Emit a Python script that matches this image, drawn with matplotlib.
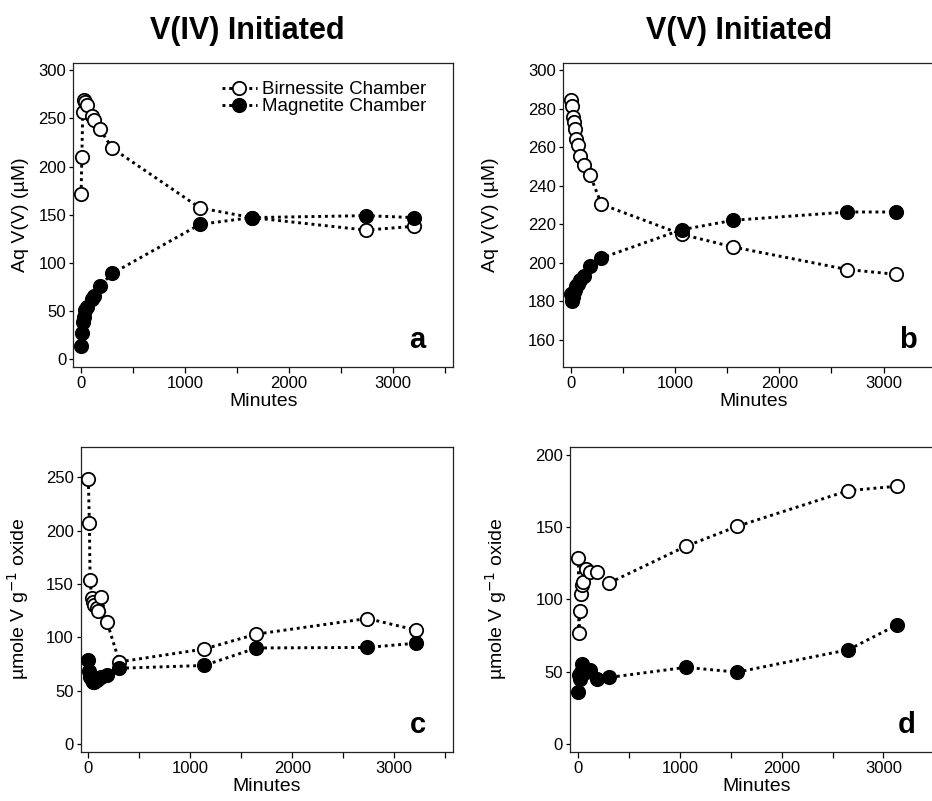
import matplotlib
matplotlib.use("Agg")
import matplotlib.pyplot as plt
from matplotlib.ticker import MultipleLocator, FixedLocator

plt.rcParams['font.family'] = ['Liberation Sans', 'DejaVu Sans']

# ---------------- data ----------------
# Panel a: V(IV) initiated, aqueous V(V) (uM)
t_a = [0, 7, 16, 29, 38, 55, 103, 128, 180, 301, 1144, 1641, 2740, 3205]
a_birn = [171, 210, 257, 269, 267, 264, 253, 248, 239, 219, 157, 147, 134, 138]
a_magn = [13, 27, 38, 44, 51, 54, 62, 66, 76, 89, 140, 147, 149, 147]

# Panel b: V(V) initiated, aqueous V(V) (uM)
t_b = [0, 12, 20, 30, 40, 55, 65, 90, 130, 185, 295, 1064, 1559, 2652, 3122]
b_birn = [284.8, 281.3, 275.7, 273, 269.7, 264.5, 261, 255.3, 250.6, 245.6, 230.4, 214.8, 208.2, 196.5, 194]
b_magn = [184, 180, 182, 185, 186, 188, 189, 191, 193, 198.2, 202.5, 217.2, 222.1, 226.4, 226.4]

# Panel c: V(IV) initiated, umole V / g oxide
t_c = [0, 10, 17, 33, 45, 59, 80, 98, 125, 184, 305, 1135, 1649, 2737, 3219]
c_birn = [248, 207, 154, 137, 133, 130, 127, 125, 138, 114, 77, 89, 103, 117.6, 106.7]
c_magn = [79, 68, 63, 60, 58, 58, 60, 62, 63, 65, 71, 73.6, 90, 90.5, 94.5]

# Panel d: V(V) initiated, umole V / g oxide
t_d = [0, 5, 15, 25, 35, 45, 75, 110, 180, 300, 1056, 1563, 2655, 3131]
d_birn = [128.8, 77, 92, 104, 110, 112, 121, 119, 119, 111.4, 136.8, 150.7, 175.4, 178.4]
d_magn = [36, 48, 45, 50, 55, 52, 50, 51, 45, 46, 53, 49.7, 65.2, 82.3]

titles = ["V(IV) Initiated", "V(V) Initiated"]
letters = ["a", "b", "c", "d"]
series_labels = ["Birnessite Chamber", "Magnetite Chamber"]
ylab_top = "Aq V(V) (\u00b5M)"
ylab_bot = "\u00b5mole V g$^{-1}$ oxide"

# ---------------- figure ----------------
W, H = 932, 801
fig = plt.figure(figsize=(W / 100, H / 100), dpi=100)

def fr(left, right, top, bottom):
    return [left / W, 1 - bottom / H, (right - left) / W, (bottom - top) / H]

ax_a = fig.add_axes(fr(73.3, 453.3, 62.7, 366.7))
ax_b = fig.add_axes(fr(562.7, 944.1, 62.7, 366.7))
ax_c = fig.add_axes(fr(80.7, 453.3, 446.7, 751.7))
ax_d = fig.add_axes(fr(570.0, 942.4, 446.7, 751.7))

dot = (0, (1, 1.3))
mk = dict(marker='o', markersize=9.6, markeredgewidth=1.3, markeredgecolor='black',
          color='black', linestyle=dot, linewidth=2.1)

panels = [
    (ax_a, t_a, a_birn, a_magn, (-75, 3580), (-8, 308), 50, ylab_top, -0.117),
    (ax_b, t_b, b_birn, b_magn, (-77, 3580), (146, 304), 20, ylab_top, -0.167),
    (ax_c, t_c, c_birn, c_magn, (-75, 3580), (-7.2, 278.6), 50, ylab_bot, -0.133),
    (ax_d, t_d, d_birn, d_magn, (-82, 3580), (-5.4, 205.8), 50, ylab_bot, -0.164),
]

for i, (ax, t, yb, ym, xl, yl, ystep, ylab, ylx) in enumerate(panels):
    ax.plot(t, yb, markerfacecolor='white', label=series_labels[0], zorder=3, **mk)
    ax.plot(t, ym, markerfacecolor='black', label=series_labels[1], zorder=4, **mk)
    ax.set_xlim(*xl)
    ax.set_ylim(*yl)
    ax.xaxis.set_major_locator(MultipleLocator(1000))
    ax.xaxis.set_minor_locator(FixedLocator([500, 1500, 2500, 3500]))
    ax.yaxis.set_major_locator(MultipleLocator(ystep))
    ax.tick_params(axis='x', which='both', direction='out', length=4, width=0.9,
                   labelsize=12, pad=3)
    ax.tick_params(axis='y', direction='out', length=3, width=0.9, labelsize=12, pad=2)
    for s in ax.spines.values():
        s.set_linewidth(0.9)
        s.set_color('#222222')
    ax.set_xlabel("Minutes", fontsize=14, labelpad=1)
    ax.set_ylabel(ylab, fontsize=14)
    ax.yaxis.set_label_coords(ylx, 0.5)
    ax.text(0.905, 0.062, letters[i], transform=ax.transAxes, fontsize=21,
            fontweight='bold', ha='center', va='baseline')

ax_a.legend(loc='upper right', bbox_to_anchor=(0.93, 0.94), frameon=False,
            fontsize=13.5, handlelength=1.85, handletextpad=0.3, labelspacing=0.0,
            borderpad=0, borderaxespad=0)

fig.text(247 / W, 1 - 31 / H, titles[0], fontsize=22, fontweight='bold',
         ha='center', va='center')
fig.text(739 / W, 1 - 31 / H, titles[1], fontsize=22, fontweight='bold',
         ha='center', va='center')

fig.savefig("out.png", dpi=100)
